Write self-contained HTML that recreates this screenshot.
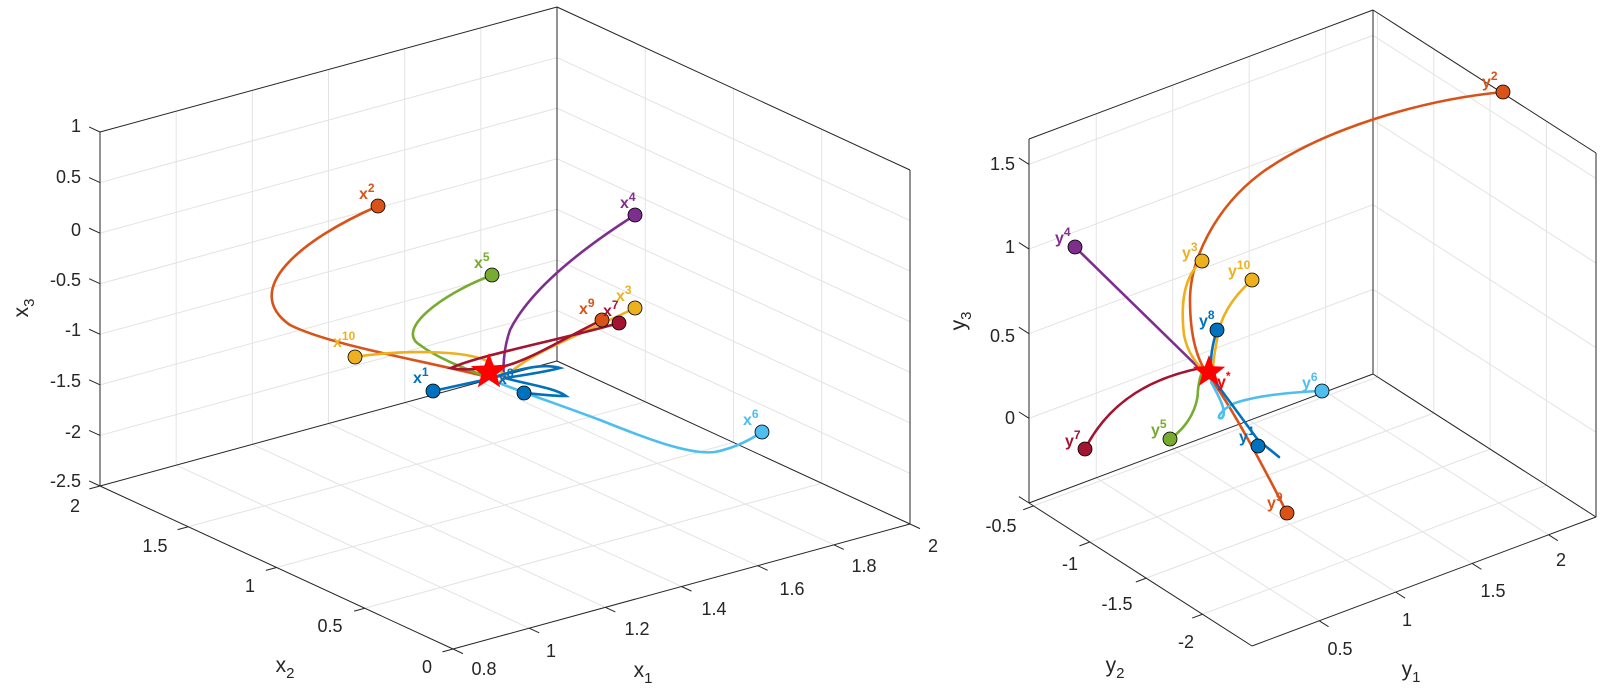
<!DOCTYPE html>
<html><head><meta charset="utf-8">
<style>
html,body{margin:0;padding:0;background:#fff;}
svg{display:block;}
text{font-family:"Liberation Sans",Arial,sans-serif;}
.tl{font-size:18px;fill:#262626;}
.at{font-size:21px;fill:#262626;}
.lb{font-size:16px;font-weight:bold;}
</style></head>
<body>
<svg id="s" width="1600" height="699" viewBox="0 0 1600 699" xmlns="http://www.w3.org/2000/svg">
<rect width="1600" height="699" fill="#fff"/>
<g id="grid"></g>
<g id="box"></g>
<g class="tl" text-anchor="end">
<text x="81" y="132">1</text><text x="81" y="183">0.5</text><text x="81" y="236">0</text>
<text x="81" y="286">-0.5</text><text x="81" y="336">-1</text><text x="81" y="387">-1.5</text>
<text x="81" y="438">-2</text><text x="81" y="487">-2.5</text>
</g>
<g class="tl" text-anchor="middle">
<text x="75" y="512">2</text><text x="155" y="552">1.5</text><text x="250" y="592">1</text>
<text x="330" y="632">0.5</text><text x="427" y="673">0</text>
<text x="484" y="675">0.8</text><text x="551" y="657">1</text><text x="637" y="635">1.2</text>
<text x="714" y="615">1.4</text><text x="792" y="595">1.6</text><text x="864" y="572">1.8</text>
<text x="933" y="552">2</text>
</g>
<text class="at" x="285" y="672" text-anchor="middle">x<tspan font-size="15" dy="6">2</tspan></text>
<text class="at" x="643" y="677" text-anchor="middle">x<tspan font-size="15" dy="6">1</tspan></text>
<text class="at" transform="translate(28,308) rotate(-90)" text-anchor="middle">x<tspan font-size="15" dy="6">3</tspan></text>
<g class="tl" text-anchor="end">
<text x="1015" y="170">1.5</text><text x="1015" y="253">1</text><text x="1015" y="342">0.5</text>
<text x="1015" y="424">0</text>
</g>
<g class="tl" text-anchor="middle">
<text x="1001" y="532">-0.5</text><text x="1070" y="570">-1</text><text x="1117" y="610">-1.5</text>
<text x="1186" y="648">-2</text>
<text x="1340" y="655">0.5</text><text x="1407" y="626">1</text><text x="1493" y="597">1.5</text>
<text x="1561" y="566">2</text>
</g>
<text class="at" x="1115" y="672" text-anchor="middle">y<tspan font-size="15" dy="6">2</tspan></text>
<text class="at" x="1411" y="676" text-anchor="middle">y<tspan font-size="15" dy="6">1</tspan></text>
<text class="at" transform="translate(965,321) rotate(-90)" text-anchor="middle">y<tspan font-size="15" dy="6">3</tspan></text>

<g fill="none" stroke-width="2.6" stroke-linecap="round">
<path stroke="#D95319" d="M378,206 C300,240 240,290 290,325 C330,345 420,360 488,377"/>
<path stroke="#77AC30" d="M492,275 C440,295 395,330 420,345 C440,360 470,370 490,378"/>
<path stroke="#7E2F8E" d="M635,215 C580,250 530,290 510,330 C503,350 503,370 504,379"/>
<path stroke="#EDB120" d="M355,357 C400,350 460,350 485,360 C495,366 502,372 505,376"/>
<path stroke="#EDB120" d="M635,308 C590,330 540,350 520,365 C510,372 503,378 499,383"/>
<path stroke="#A2142F" d="M619,323 C560,340 480,355 451,368 C470,372 490,366 505,366 C530,360 570,335 602,320"/>
<path stroke="#4DBEEE" d="M499,383 C530,395 560,405 600,420 C650,440 690,455 715,452 C735,448 750,440 762,432"/>
<path stroke="#0072BD" d="M433,391 L488,379 C510,372 540,362 560,368 C545,372 525,375 505,378 C530,385 555,388 566,396 C548,396 530,393 524,393"/>
</g>
<g stroke="#000" stroke-width="0.8">
<circle cx="378" cy="206" r="7" fill="#D95319"/>
<circle cx="492" cy="275" r="7" fill="#77AC30"/>
<circle cx="635" cy="215" r="7" fill="#7E2F8E"/>
<circle cx="355" cy="357" r="7" fill="#EDB120"/>
<circle cx="602" cy="320" r="7" fill="#D95319"/>
<circle cx="635" cy="308" r="7" fill="#EDB120"/>
<circle cx="619" cy="323" r="7" fill="#A2142F"/>
<circle cx="762" cy="432" r="7" fill="#4DBEEE"/>
<circle cx="433" cy="391" r="7" fill="#0072BD"/>
<circle cx="524" cy="393" r="7" fill="#0072BD"/>
</g>
<polygon id="st1" fill="#FF0000" points=""/>
<g class="lb">
<text x="359" y="199" fill="#D95319">x<tspan font-size="12" dy="-7">2</tspan></text>
<text x="474" y="268" fill="#77AC30">x<tspan font-size="12" dy="-7">5</tspan></text>
<text x="620" y="208" fill="#7E2F8E">x<tspan font-size="12" dy="-7">4</tspan></text>
<text x="579" y="314" fill="#D95319">x<tspan font-size="12" dy="-7">9</tspan></text>
<text x="603" y="316" fill="#A2142F">x<tspan font-size="12" dy="-7">7</tspan></text>
<text x="616" y="301" fill="#EDB120">x<tspan font-size="12" dy="-7">3</tspan></text>
<text x="333" y="347" fill="#EDB120">x<tspan font-size="12" dy="-7">10</tspan></text>
<text x="743" y="425" fill="#4DBEEE">x<tspan font-size="12" dy="-7">6</tspan></text>
<text x="413" y="383" fill="#0072BD">x<tspan font-size="12" dy="-7">1</tspan></text>
<text x="498" y="384" fill="#0072BD">x<tspan font-size="12" dy="-7">8</tspan></text>
</g>

<g fill="none" stroke-width="2.6" stroke-linecap="round">
<path stroke="#D95319" d="M1503,92 C1420,100 1320,130 1260,174 C1215,208 1190,260 1190,300 C1190,330 1195,360 1211,379 C1230,405 1260,460 1287,513"/>
<path stroke="#7E2F8E" d="M1075,247 L1203,372"/>
<path stroke="#EDB120" d="M1202,261 C1185,275 1180,300 1184,335 C1188,355 1198,365 1205,372"/>
<path stroke="#EDB120" d="M1252,280 C1235,295 1220,315 1217,340 C1214,355 1213,365 1213,372"/>
<path stroke="#0072BD" d="M1217,330 C1212,345 1210,360 1211,374"/>
<path stroke="#4DBEEE" d="M1322,391 C1290,392 1255,396 1235,403 C1220,410 1215,420 1222,418 C1228,412 1218,395 1211,382"/>
<path stroke="#0072BD" d="M1216,383 L1258,440 L1279,457"/>
<path stroke="#A2142F" d="M1085,449 C1105,410 1140,380 1201,368"/>
<path stroke="#77AC30" d="M1170,439 C1190,425 1198,405 1198,390 C1199,380 1201,374 1203,370"/>
</g>
<g stroke="#000" stroke-width="0.8">
<circle cx="1503" cy="92" r="7" fill="#D95319"/>
<circle cx="1287" cy="513" r="7" fill="#D95319"/>
<circle cx="1075" cy="247" r="7" fill="#7E2F8E"/>
<circle cx="1202" cy="261" r="7" fill="#EDB120"/>
<circle cx="1252" cy="280" r="7" fill="#EDB120"/>
<circle cx="1217" cy="330" r="7" fill="#0072BD"/>
<circle cx="1322" cy="391" r="7" fill="#4DBEEE"/>
<circle cx="1258" cy="446" r="7" fill="#0072BD"/>
<circle cx="1085" cy="449" r="7" fill="#A2142F"/>
<circle cx="1170" cy="439" r="7" fill="#77AC30"/>
</g>
<polygon id="st2" fill="#FF0000" points=""/>
<g class="lb">
<text x="1482" y="87" fill="#D95319">y<tspan font-size="12" dy="-7">2</tspan></text>
<text x="1055" y="243" fill="#7E2F8E">y<tspan font-size="12" dy="-7">4</tspan></text>
<text x="1182" y="258" fill="#EDB120">y<tspan font-size="12" dy="-7">3</tspan></text>
<text x="1228" y="276" fill="#EDB120">y<tspan font-size="12" dy="-7">10</tspan></text>
<text x="1199" y="326" fill="#0072BD">y<tspan font-size="12" dy="-7">8</tspan></text>
<text x="1302" y="388" fill="#4DBEEE">y<tspan font-size="12" dy="-7">6</tspan></text>
<text x="1239" y="442" fill="#0072BD">y<tspan font-size="12" dy="-7">1</tspan></text>
<text x="1065" y="446" fill="#A2142F">y<tspan font-size="12" dy="-7">7</tspan></text>
<text x="1151" y="435" fill="#77AC30">y<tspan font-size="12" dy="-7">5</tspan></text>
<text x="1267" y="508" fill="#D95319">y<tspan font-size="12" dy="-7">9</tspan></text>
<text x="1217" y="387" fill="#FF0000">y<tspan font-size="12" dy="-7">*</tspan></text>
</g>
</svg>
<script>
(function(){
var NS="http://www.w3.org/2000/svg";
var grid=document.getElementById("grid"),box=document.getElementById("box");
function ln(g,x1,y1,x2,y2,c,w){var l=document.createElementNS(NS,"line");l.setAttribute("x1",x1);l.setAttribute("y1",y1);l.setAttribute("x2",x2);l.setAttribute("y2",y2);l.setAttribute("stroke",c);l.setAttribute("stroke-width",w);g.appendChild(l);}
function L(p,q,t){return [p[0]+t*(q[0]-p[0]),p[1]+t*(q[1]-p[1])];}
function draw(A,B,C,H,t1,t2,t3){
 var D=[A[0]+C[0]-B[0],A[1]+C[1]-B[1]];
 var gc="#e3e3e3",gw=1;
 t1.forEach(function(t){var p=L(A,D,t),q=L(B,C,t);ln(grid,p[0],p[1],q[0],q[1],gc,gw);ln(grid,p[0],p[1],p[0],p[1]-H,gc,gw);
   var a=L(B,C,t),u=[(B[0]-A[0]),(B[1]-A[1])],n=Math.hypot(u[0],u[1]);ln(box,a[0],a[1],a[0]+u[0]/n*11,a[1]+u[1]/n*11,"#262626",1);});
 t2.forEach(function(s){var p=L(B,A,s),q=L(C,D,s);ln(grid,p[0],p[1],q[0],q[1],gc,gw);ln(grid,q[0],q[1],q[0],q[1]-H,gc,gw);
   var u=[(B[0]-C[0]),(B[1]-C[1])],n=Math.hypot(u[0],u[1]);ln(box,p[0],p[1],p[0]+u[0]/n*11,p[1]+u[1]/n*11,"#262626",1);});
 t3.forEach(function(v){var h=v*H;ln(grid,A[0],A[1]-h,D[0],D[1]-h,gc,gw);ln(grid,D[0],D[1]-h,C[0],C[1]-h,gc,gw);
   var u=[(A[0]-B[0]),(A[1]-B[1])],n=Math.hypot(u[0],u[1]);ln(box,A[0],A[1]-h,A[0]+u[0]/n*12,A[1]-h+u[1]/n*12,"#262626",1);});
 var k="#262626",w=1;
 ln(box,A[0],A[1],B[0],B[1],k,w);ln(box,B[0],B[1],C[0],C[1],k,w);
 ln(box,A[0],A[1],D[0],D[1],k,w);ln(box,D[0],D[1],C[0],C[1],k,w);
 ln(box,A[0],A[1],A[0],A[1]-H,k,w);ln(box,D[0],D[1],D[0],D[1]-H,k,w);ln(box,C[0],C[1],C[0],C[1]-H,k,w);
 ln(box,A[0],A[1]-H,D[0],D[1]-H,k,w);ln(box,D[0],D[1]-H,C[0],C[1]-H,k,w);
}
var a=[],b=[],c=[],i;
for(i=0;i<=6;i++)a.push(i/6);
for(i=0;i<=4;i++)b.push(i/4);
for(i=0;i<=7;i++)c.push(i/7);
draw([100,486],[453,649],[910,524],354,a,b,c);
var r1=[],r2=[],r3=[];
[0.5,1,1.5,2].forEach(function(v){r1.push((v-0.06)/2.25);});
[-0.5,-1,-1.5,-2].forEach(function(v){r2.push((v+2.44)/1.98);});
[-0.5,0,0.5,1,1.5].forEach(function(v){r3.push((v+0.5)/2.15);});
draw([1029,503],[1252,646],[1596,517],364,r1,r2,r3);
function star(id,cx,cy,R){var p=[];for(var j=0;j<10;j++){var r=j%2?R*0.42:R;var an=-Math.PI/2+j*Math.PI/5;p.push((cx+r*Math.cos(an)).toFixed(1)+","+(cy+r*Math.sin(an)).toFixed(1));}document.getElementById(id).setAttribute("points",p.join(" "));}
star("st1",489,372,19);star("st2",1209,372,17);
})();
</script>
</body></html>
